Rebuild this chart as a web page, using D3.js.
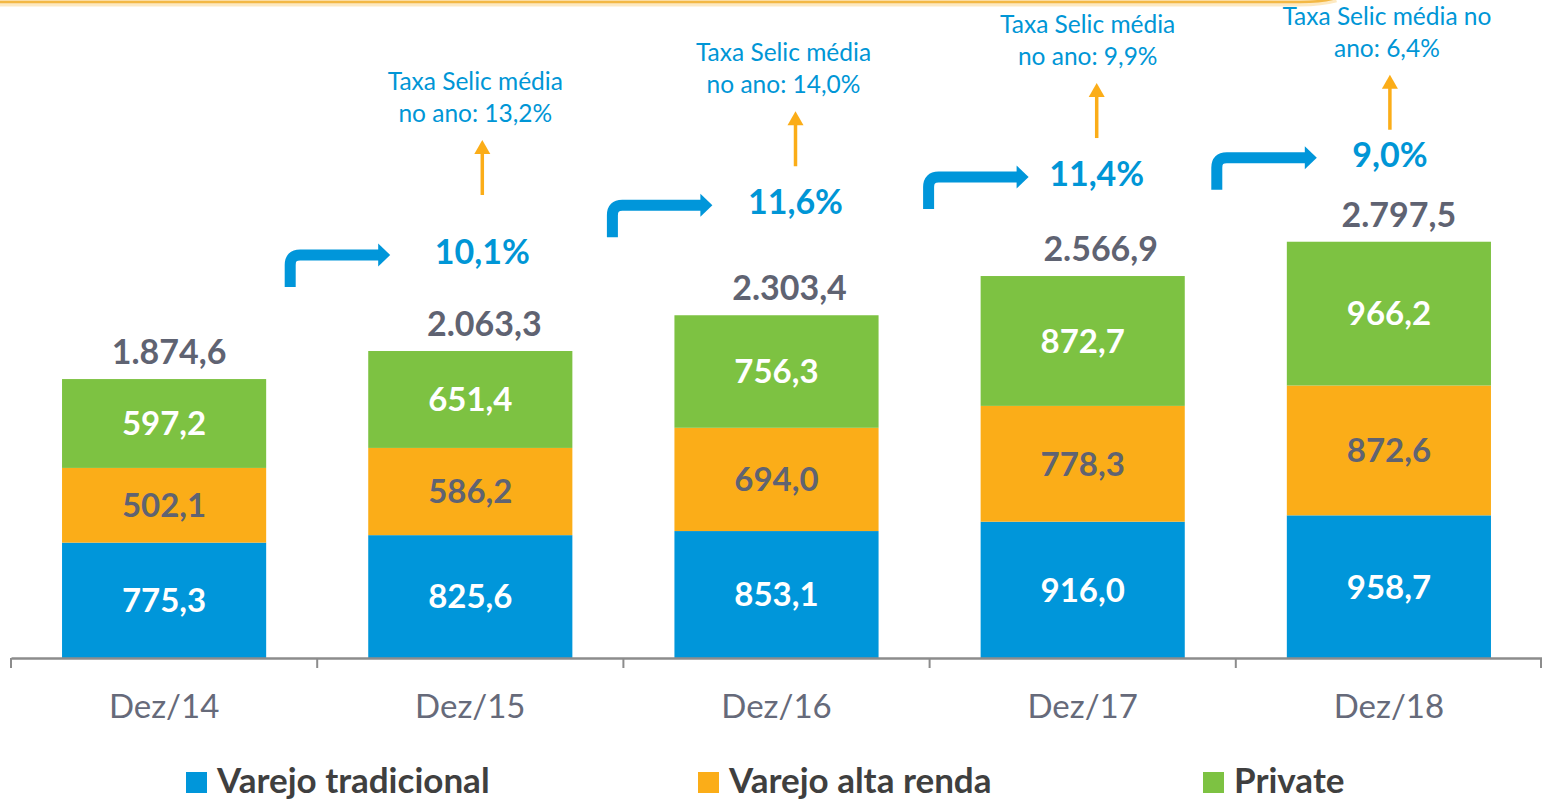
<!DOCTYPE html>
<html>
<head>
<meta charset="utf-8">
<script src="https://cdn.jsdelivr.net/npm/d3@7"></script>
<style>
  html, body { margin: 0; padding: 0; background: #fff; }
  svg { display: block; font-family: Lato, "Open Sans", sans-serif; }
</style>
</head>
<body>
<svg id="chart" width="1542" height="800"></svg>
<script>
// data
var categories = ["Dez/14", "Dez/15", "Dez/16", "Dez/17", "Dez/18"];
var seriesNames = ["Varejo tradicional", "Varejo alta renda", "Private"];
var varejoTradicional = [775.3, 825.6, 853.1, 916.0, 958.7];
var varejoAltaRenda   = [502.1, 586.2, 694.0, 778.3, 872.6];
var privateVals       = [597.2, 651.4, 756.3, 872.7, 966.2];
var totals            = [1874.6, 2063.3, 2303.4, 2566.9, 2797.5];
var growth = ["10,1%", "11,6%", "11,4%", "9,0%"];
var selic = [
  ["Taxa Selic média", "no ano: 13,2%"],
  ["Taxa Selic média", "no ano: 14,0%"],
  ["Taxa Selic média", "no ano: 9,9%"],
  ["Taxa Selic média no", "ano: 6,4%"]
];

// annotation tweaks (px)
var totalDx = [5, 14, 13, 18, 10]
  , noteDx = [12, 19, 14, 1]
  , noteDy = [72, 86, 75, 60]
  , selicDx = [-7, -12, -9, -3]
  , arrowGap = [57, 36, 36, 25]
  , bentDx = [-27, -11, -1, -19];

var colors = ["#0096da", "#fbad18", "#7dc242"]
  , labelColors = ["#ffffff", "#5f6372", "#ffffff"]
  , grey = "#5f6372"
  , blueText = "#0096d6";

var fmt = function(v) {
  var s = v.toFixed(1).split(".");
  var intPart = s[0].replace(/\B(?=(\d{3})+(?!\d))/g, ".");
  return intPart + "," + s[1];
};

var svg = d3.select("#chart");
var baseY = 658;

var x = d3.scaleBand()
    .domain(categories)
    .range([11, 1542])
    .paddingInner(1 / 3)
    .paddingOuter(1 / 6);

var y = d3.scaleLinear()
    .domain([0, 3000])
    .range([baseY, baseY - 3000 * 0.1488]);

// top decorative line
svg.append("path")
    .attr("d", "M0,3 L1300,3 Q1322,3 1336,-1")
    .attr("fill", "none")
    .attr("stroke", "#fde9c2")
    .attr("stroke-width", 7);
svg.append("path")
    .attr("d", "M0,2 L1300,2 Q1322,2 1336,-2")
    .attr("fill", "none")
    .attr("stroke", "#f3b844")
    .attr("stroke-width", 2.5);

var table = categories.map(function(c, i) {
  return { cat: c, vals: [varejoTradicional[i], varejoAltaRenda[i], privateVals[i]] };
});
var stack = d3.stack().keys([0, 1, 2]).value(function(d, k) { return d.vals[k]; });
var layers = stack(table);

var g = svg.append("g");
layers.forEach(function(layer, k) {
  g.selectAll(".bar" + k)
    .data(layer)
    .enter().append("rect")
      .attr("x", function(d) { return x(d.data.cat); })
      .attr("y", function(d) { return y(d[1]); })
      .attr("width", x.bandwidth())
      .attr("height", function(d) { return y(d[0]) - y(d[1]); })
      .attr("fill", colors[k]);

  g.selectAll(".lab" + k)
    .data(layer)
    .enter().append("text")
      .attr("x", function(d) { return x(d.data.cat) + x.bandwidth() / 2; })
      .attr("y", function(d) { return (y(d[0]) + y(d[1])) / 2; })
      .attr("dy", "0.36em")
      .style("text-anchor", "middle")
      .style("font-size", "33px")
      .style("font-weight", "bold")
      .style("fill", labelColors[k])
      .text(function(d) { return fmt(d.data.vals[k]); });
});

// totals
g.selectAll(".total")
  .data(totals)
  .enter().append("text")
    .attr("x", function(d, i) { return x(categories[i]) + x.bandwidth() / 2 + totalDx[i]; })
    .attr("y", function(d) { return y(d) - 27; })
    .attr("dy", "0.36em")
    .style("text-anchor", "middle")
    .style("font-size", "34px")
    .style("font-weight", "bold")
    .style("fill", grey)
    .text(function(d) { return fmt(d); });

// axis
var axis = svg.append("g")
    .attr("transform", "translate(0," + baseY + ")")
    .call(d3.axisBottom(x).tickSize(0).tickPadding(37));
axis.select(".domain").attr("stroke", "#8c8c8c").attr("stroke-width", 2.5);
axis.selectAll(".tick text")
    .style("font-size", "33px")
    .style("font-family", "Lato, 'Open Sans', sans-serif")
    .style("fill", "#666a7a");

var half = (x.step() - x.bandwidth()) / 2;
var seps = categories.map(function(c) { return x(c) - half; }).concat([x(categories[4]) + x.bandwidth() + half]);
axis.selectAll(".sep")
  .data(seps)
  .enter().append("line")
    .attr("x1", function(d) { return Math.min(d, 1541); })
    .attr("x2", function(d) { return Math.min(d, 1541); })
    .attr("y1", 0)
    .attr("y2", 10)
    .attr("stroke", "#8c8c8c")
    .attr("stroke-width", 2);

// growth notes
growth.forEach(function(txt, j) {
  var i = j + 1;
  var cx = x(categories[i]) + x.bandwidth() / 2 + noteDx[j];
  var cy = y(totals[i]) - 27 - noteDy[j];

  svg.append("text")
      .attr("x", cx)
      .attr("y", cy)
      .attr("dy", "0.36em")
      .style("text-anchor", "middle")
      .style("font-size", "34px")
      .style("font-weight", "bold")
      .style("fill", blueText)
      .text(txt);

  // orange up arrow
  var ab = cy - arrowGap[j], at = ab - 55;
  svg.append("line")
      .attr("x1", cx).attr("x2", cx)
      .attr("y1", ab).attr("y2", at + 12)
      .attr("stroke", "#fbad18")
      .attr("stroke-width", 3.5);
  svg.append("path")
      .attr("d", "M" + (cx - 8) + "," + (at + 14) + " L" + cx + "," + at + " L" + (cx + 8) + "," + (at + 14) + "Z")
      .attr("fill", "#fbad18");

  // selic text
  var t = svg.append("text")
      .style("text-anchor", "middle")
      .style("font-size", "24.5px")
      .style("fill", blueText);
  selic[j].forEach(function(line, l) {
    t.append("tspan")
      .attr("x", cx + selicDx[j])
      .attr("y", at - 27 - (1 - l) * 32)
      .attr("dy", "0.36em")
      .text(line);
  });

  // blue bent arrow
  var vx = x(categories[i]) - half + bentDx[j];
  var hy = cy + 3;
  var tip = vx + 100;
  var r = 10;
  svg.append("path")
      .attr("d", "M" + vx + "," + (hy + 32) + " L" + vx + "," + (hy + r) +
                 " Q" + vx + "," + hy + " " + (vx + r) + "," + hy +
                 " L" + (tip - 11) + "," + hy)
      .attr("fill", "none")
      .attr("stroke", "#0096da")
      .attr("stroke-width", 11);
  svg.append("path")
      .attr("d", "M" + (tip - 12) + "," + (hy - 11.5) + " L" + tip + "," + hy + " L" + (tip - 12) + "," + (hy + 11.5) + "Z")
      .attr("fill", "#0096da");
});

// legend
var legX = [186, 698, 1203];
var leg = svg.append("g");
seriesNames.forEach(function(name, k) {
  leg.append("rect")
      .attr("x", legX[k]).attr("y", 772)
      .attr("width", 21).attr("height", 21)
      .attr("fill", colors[k]);
  leg.append("text")
      .attr("x", legX[k] + 31)
      .attr("y", 793)
      .style("font-size", "35px")
      .style("font-weight", "bold")
      .style("fill", "#3f3f3f")
      .text(name);
});
</script>
</body>
</html>
